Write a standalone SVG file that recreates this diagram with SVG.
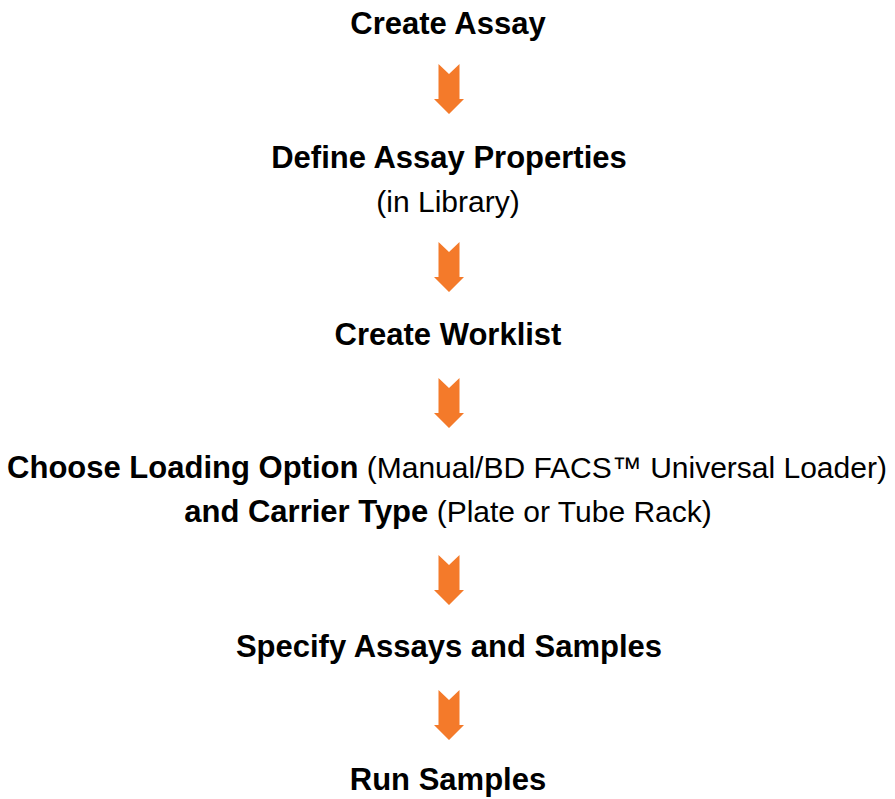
<svg xmlns="http://www.w3.org/2000/svg" width="895" height="799" viewBox="0 0 895 799">
  <style>
    text { font-family: "Liberation Sans", Arial, sans-serif; font-size: 30px; fill: #000; text-anchor: middle; }
    .b { font-weight: bold; font-size: 31px; }
    .arrow { fill: #f47a2a; }
  </style>
  <defs>
    <polygon id="down" class="arrow" points="-10.5,0 0,10 10.5,0 10.5,35 15,35 0,50 -15,35 -10.5,35"/>
  </defs>
  <rect width="895" height="799" fill="#fff"/>

  <g id="connectors">
    <use href="#down" x="449" y="64"/>
    <use href="#down" x="449" y="242"/>
    <use href="#down" x="449" y="378"/>
    <use href="#down" x="449" y="555"/>
    <use href="#down" x="449" y="690"/>
  </g>

  <g id="create-assay">
    <text class="b" x="448" y="34">Create Assay</text>
  </g>
  <g id="define-properties">
    <text class="b" x="449" y="168">Define Assay Properties</text>
    <text x="448" y="212">(in Library)</text>
  </g>
  <g id="create-worklist">
    <text class="b" x="448" y="345">Create Worklist</text>
  </g>
  <g id="choose-loading">
    <text x="447" y="478"><tspan class="b">Choose Loading Option</tspan> (Manual/BD FACS™ Universal Loader)</text>
    <text x="448" y="522"><tspan class="b">and Carrier Type</tspan> (Plate or Tube Rack)</text>
  </g>
  <g id="specify-assays">
    <text class="b" x="449" y="657">Specify Assays and Samples</text>
  </g>
  <g id="run-samples">
    <text class="b" x="448" y="790">Run Samples</text>
  </g>
</svg>
